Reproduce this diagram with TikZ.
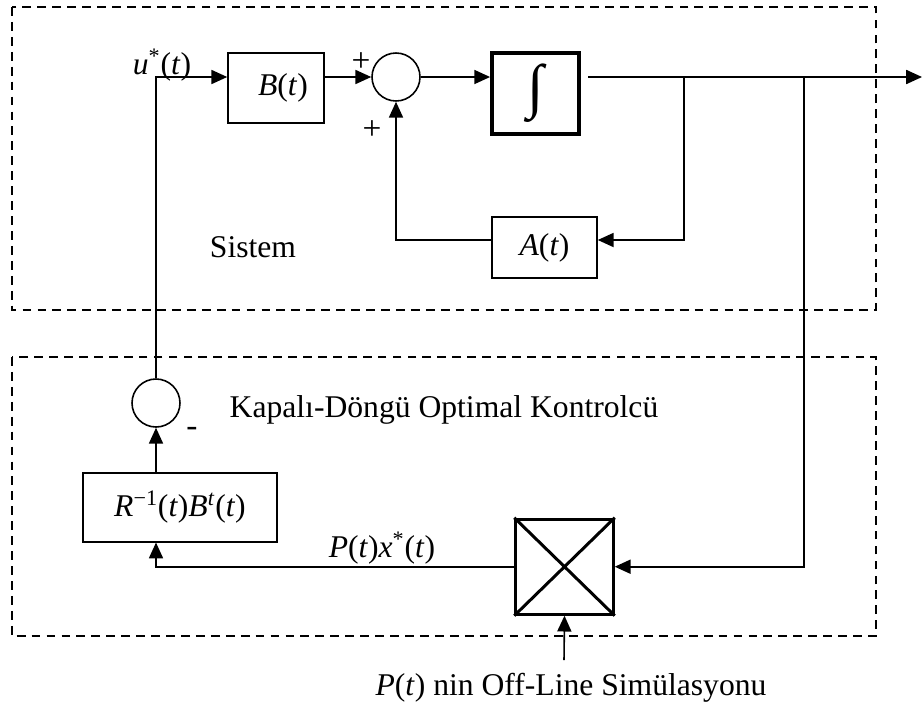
\documentclass[tikz,border=0pt]{standalone}
\usepackage{fontspec}
\setmainfont{Liberation Serif}
\usetikzlibrary{arrows.meta,calc}

\newcommand{\iv}[1]{\textit{#1}}

\begin{document}
\begin{tikzpicture}[
  x=0.02cm, y=-0.02cm,
  font=\fontsize{18}{20}\selectfont,
  >={Triangle[length=9pt,width=8pt]},
  block/.style={draw, line width=0.9pt, inner sep=0pt},
  thickblock/.style={draw, line width=2.2pt, inner sep=0pt},
  sumc/.style={draw, circle, line width=0.9pt, minimum size=0.96cm, inner sep=0pt},
  frame/.style={line width=0.7pt, dash pattern=on 5pt off 3.5pt},
  arr/.style={->, line width=0.9pt},
  sign/.style={font=\fontsize{19}{20}\selectfont, inner sep=0pt}
]
\useasboundingbox (0,0) rectangle (922,711);

% system and controller frames
\draw[frame] (12,7) rectangle (876,310);
\draw[frame] (12,357) rectangle (876,636);

\node[block, minimum width=1.92cm, minimum height=1.4cm] (b) at (276,88) {\hspace{8pt}\iv{B}(\iv{t})};
\node[sumc] (sum1) at (396,77) {};
\node[thickblock, minimum width=1.74cm, minimum height=1.62cm] (int) at (535.5,93.5) {\fontsize{34}{36}\selectfont ∫};
\node[block, minimum width=2.1cm, minimum height=1.22cm] (a) at (544.5,247.5) {\iv{A}(\iv{t})};
\node[sumc] (sum2) at (156,403) {};
\node[block, minimum width=3.87cm, minimum height=1.37cm] (r) at (180,507.5) {\iv{R}\textsuperscript{−1}(\iv{t})\iv{B}\textsuperscript{\iv{t}}(\iv{t})};
\node[thickblock, line width=1.7pt, minimum width=1.95cm, minimum height=1.9cm] (x) at (564.5,566.7) {};
\draw[line width=1.7pt] (x.north west) -- (x.south east) (x.north east) -- (x.south west);

% labels
\node (ulab) at (162,65) {\iv{u}\textsuperscript{*}(\iv{t})};
\node[sign] (p1) at (361,62) {+};
\node[sign] (p2) at (372,130) {+};
\node[sign] (m1) at (192,432) {-};
\node (sis) at (253,247) {Sistem};
\node (kap) at (444,410) {Kapalı-Döngü Optimal Kontrolcü};
\node (pxlab) at (382,548) {\iv{P}(\iv{t})\iv{x}\textsuperscript{*}(\iv{t})};
\node (sim) at (571,688) {\iv{P}(\iv{t}) nin Off-Line Simülasyonu};

\coordinate (o1) at (588,77);
\coordinate (tap1) at (684,77);
\coordinate (tap2) at (804,77);
\coordinate (outp) at (922,77);
\coordinate (fb) at (684,240);
\coordinate (simin) at (564,660);

% signal paths
\draw[arr] (sum2.north) |- (b.west |- sum1);
\draw[arr] (b.east |- sum1) -- (sum1.west);
\draw[arr] (sum1.east) -- (int.west |- sum1);
\draw[arr] (o1) -- (outp);
\draw[arr] (tap1) -- (fb) -- (a.east |- fb);
\draw[arr] (a.west |- fb) -| (sum1.south);
\draw[arr] (tap2) |- (x.east);
\draw[arr] (x.west) -| (r.south -| sum2);
\draw[arr] (r.north -| sum2) -- (sum2.south);
\draw[arr] (simin) -- (x.south);
\end{tikzpicture}
\end{document}
